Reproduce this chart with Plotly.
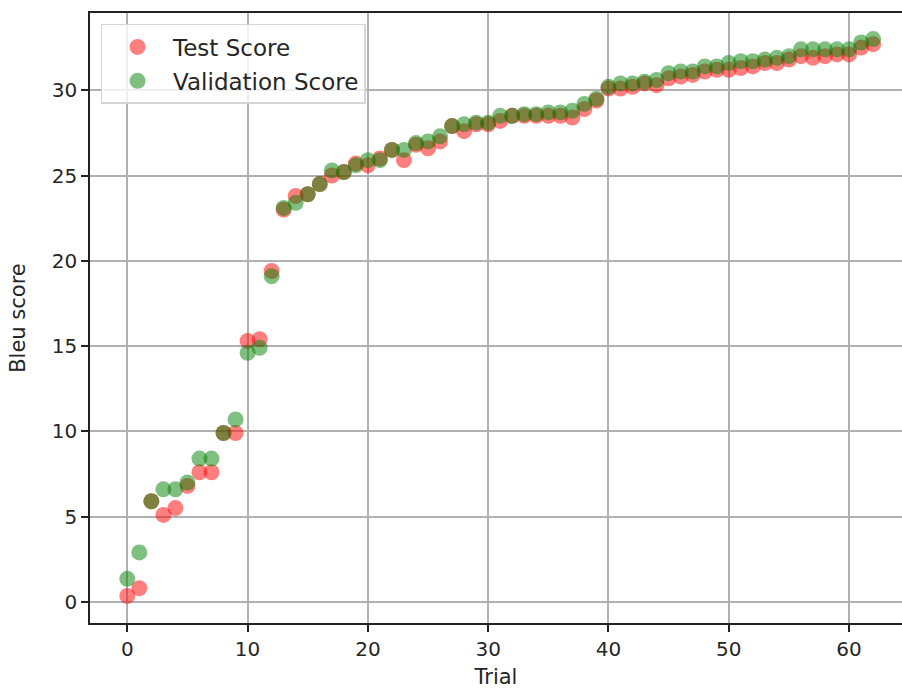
import plotly.graph_objects as go

trials = list(range(63))
test_score = [0.35, 0.8, 5.9, 5.1, 5.5, 6.8, 7.6, 7.6, 9.9, 9.9,
              15.3, 15.4, 19.4, 23.0, 23.8, 23.9, 24.5, 25.0, 25.2, 25.7,
              25.6, 26.0, 26.5, 25.9, 26.8, 26.6, 27.0, 27.9, 27.6, 28.0,
              28.0, 28.2, 28.5, 28.5, 28.5, 28.5, 28.5, 28.4, 28.9, 29.4,
              30.1, 30.1, 30.2, 30.4, 30.3, 30.7, 30.8, 30.9, 31.1, 31.2,
              31.2, 31.3, 31.4, 31.6, 31.6, 31.8, 32.0, 31.9, 32.0, 32.1,
              32.1, 32.5, 32.7]
val_score = [1.35, 2.9, 5.9, 6.6, 6.6, 7.0, 8.4, 8.4, 9.9, 10.7,
             14.6, 14.9, 19.1, 23.1, 23.4, 23.9, 24.5, 25.3, 25.2, 25.6,
             25.9, 25.9, 26.5, 26.5, 26.9, 27.0, 27.3, 27.9, 28.0, 28.1,
             28.1, 28.5, 28.5, 28.6, 28.6, 28.7, 28.7, 28.8, 29.2, 29.5,
             30.2, 30.4, 30.4, 30.5, 30.6, 31.0, 31.1, 31.1, 31.4, 31.4,
             31.6, 31.7, 31.7, 31.8, 31.9, 32.0, 32.4, 32.4, 32.4, 32.4,
             32.4, 32.8, 33.0]
x_ticks = [0, 10, 20, 30, 40, 50, 60]
y_ticks = [0, 5, 10, 15, 20, 25, 30]

fig = go.Figure()
fig.add_trace(go.Scatter(x=trials, y=test_score, mode="markers", name="Test Score",
                         legendgroup="a",
                         marker=dict(color="rgba(255,0,0,0.5)", size=16, line=dict(width=0))))
fig.add_trace(go.Scatter(x=trials, y=val_score, mode="markers", name="Validation Score",
                         legendgroup="b",
                         marker=dict(color="rgba(0,128,0,0.5)", size=16, line=dict(width=0))))

axis_common = dict(showgrid=True, gridcolor="#b0b0b0", gridwidth=1.5, zeroline=False,
                   showline=True, linecolor="#222222", linewidth=1.6,
                   ticks="outside", ticklen=7, tickwidth=1.6, tickcolor="#222222",
                   tickfont=dict(family="DejaVu Sans", size=20, color="#262626"))

fig.update_layout(
    width=902, height=690,
    margin=dict(l=90, r=0, t=13, b=67, pad=0),
    paper_bgcolor="white", plot_bgcolor="white",
    font=dict(family="DejaVu Sans", size=20, color="#262626"),
    xaxis=dict(range=[-3.1, 64.4], tickvals=x_ticks, mirror=True,
               title=dict(text="Trial", font=dict(size=21), standoff=10), **axis_common),
    yaxis=dict(range=[-1.24, 34.53], tickvals=y_ticks, mirror=False,
               title=dict(text="Bleu score", font=dict(size=21), standoff=20), **axis_common),
    legend=dict(x=0.013, y=0.982, xanchor="left", yanchor="top",
                bgcolor="rgba(255,255,255,0.8)", bordercolor="#d5d5d5", borderwidth=1.5,
                font=dict(size=23), itemwidth=61, tracegroupgap=1),
)

fig.write_html("out.html", config={"displayModeBar": False},
               post_script="document.body.style.margin='0';document.body.style.overflow='hidden';")
